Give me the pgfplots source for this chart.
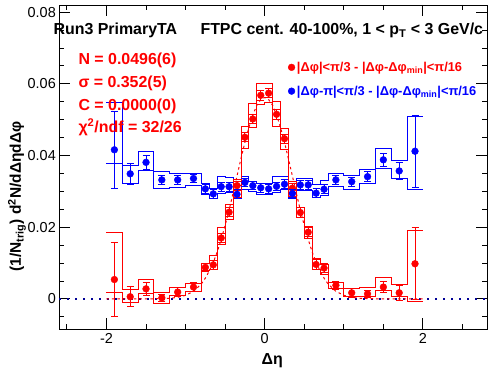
\documentclass[border=0pt]{standalone}
\usepackage{fontspec}
\setmainfont{Liberation Sans}
\usepackage{pgfplots}
\pgfplotsset{compat=1.18}
\usepackage{pgfplotstable}

\definecolor{rootred}{RGB}{255,0,0}
\definecolor{rootblue}{RGB}{0,0,255}
\definecolor{navyline}{RGB}{0,0,150}

% x = bin centre, lo = lower bin edge, y = value, ey = stat. error, up/dn = systematic band
\pgfplotstableread{
x     lo    y       ey      up      dn
-1.9  -2.0  0.0054  0.0103  0.0184  0.0019
-1.7  -1.8  0.0006  0.0028  0.0026  -0.0011
-1.5  -1.6  0.0028  0.0019  0.0054  0.0014
-1.3  -1.4  0.0003  0.0010  0.0019  -0.0014
-1.1  -1.2  0.0019  0.0012  0.0031  0.0009
-0.9  -1.0  0.0033  0.0012  0.0042  0.0020
-0.75 -0.8  0.0088  0.0012  0.0098  0.0080
-0.65 -0.7  0.0095  0.0013  0.0121  0.0081
-0.55 -0.6  0.0170  0.0012  0.0199  0.0151
-0.45 -0.5  0.0242  0.0013  0.0263  0.0223
-0.35 -0.4  0.0316  0.0013  0.0332  0.0282
-0.25 -0.3  0.0451  0.0013  0.0481  0.0421
-0.15 -0.2  0.0502  0.0013  0.0546  0.0478
-0.05 -0.1  0.0568  0.0013  0.0600  0.0543
0.05  0.0   0.0574  0.0013  0.0600  0.0548
0.15  0.1   0.0515  0.0013  0.0551  0.0481
0.25  0.2   0.0447  0.0013  0.0476  0.0418
0.35  0.3   0.0309  0.0013  0.0328  0.0286
0.45  0.4   0.0241  0.0013  0.0256  0.0226
0.55  0.5   0.0186  0.0013  0.0202  0.0170
0.65  0.6   0.0096  0.0013  0.0114  0.0082
0.75  0.7   0.0086  0.0013  0.0096  0.0068
0.9   0.8   0.0038  0.0012  0.0045  0.0030
1.1   1.0   0.0017  0.0012  0.0028  0.0006
1.3   1.2   0.0014  0.0010  0.0031  0.0006
1.5   1.4   0.0033  0.0016  0.0061  0.0023
1.7   1.6   0.0017  0.0021  0.0039  0.0006
1.9   1.8   0.0098  0.0100  0.0192  -0.0008
nan   2.0   nan     0       0.0192  -0.0008
}\redtab

\pgfplotstableread{
x     lo    y       ey      up      dn
-1.9  -2.0  0.0416  0.0107  0.0549  0.0377
-1.7  -1.8  0.0349  0.0029  0.0373  0.0323
-1.5  -1.6  0.0381  0.0020  0.0410  0.0357
-1.3  -1.4  0.0332  0.0013  0.0355  0.0308
-1.1  -1.2  0.0332  0.0012  0.0351  0.0311
-0.9  -1.0  0.0336  0.0012  0.0351  0.0316
-0.75 -0.8  0.0307  0.0012  0.0323  0.0291
-0.65 -0.7  0.0293  0.0012  0.0309  0.0279
-0.55 -0.6  0.0313  0.0012  0.0343  0.0295
-0.45 -0.5  0.0313  0.0012  0.0340  0.0296
-0.35 -0.4  0.0292  0.0012  0.0317  0.0281
-0.25 -0.3  0.0325  0.0012  0.0343  0.0305
-0.15 -0.2  0.0316  0.0012  0.0328  0.0299
-0.05 -0.1  0.0310  0.0012  0.0323  0.0291
0.05  0.0   0.0307  0.0012  0.0323  0.0291
0.15  0.1   0.0314  0.0012  0.0342  0.0298
0.25  0.2   0.0320  0.0012  0.0342  0.0305
0.35  0.3   0.0294  0.0012  0.0323  0.0281
0.45  0.4   0.0318  0.0012  0.0335  0.0302
0.55  0.5   0.0318  0.0012  0.0335  0.0302
0.65  0.6   0.0295  0.0012  0.0318  0.0282
0.75  0.7   0.0306  0.0012  0.0330  0.0290
0.9   0.8   0.0332  0.0012  0.0351  0.0314
1.1   1.0   0.0327  0.0012  0.0345  0.0306
1.3   1.2   0.0341  0.0014  0.0362  0.0322
1.5   1.4   0.0388  0.0019  0.0421  0.0365
1.7   1.6   0.0357  0.0025  0.0385  0.0337
1.9   1.8   0.0412  0.0100  0.0509  0.0305
nan   2.0   nan     0       0.0509  0.0305
}\bluetab

% Gaussian fit curve, tabulated
\pgfplotstableread{
x     y
-2.0  0.0000
-1.6  0.0000
-1.4  0.00002
-1.2  0.00017
-1.1  0.00043
-1.0  0.0010
-0.9  0.0021
-0.8  0.0042
-0.75 0.0058
-0.7  0.0078
-0.65 0.0102
-0.6  0.0131
-0.55 0.0166
-0.5  0.0205
-0.45 0.0248
-0.4  0.0295
-0.35 0.0343
-0.3  0.0391
-0.25 0.0437
-0.2  0.0478
-0.15 0.0513
-0.1  0.0540
-0.05 0.0556
0.0   0.0562
0.05  0.0556
0.1   0.0540
0.15  0.0513
0.2   0.0478
0.25  0.0437
0.3   0.0391
0.35  0.0343
0.4   0.0295
0.45  0.0248
0.5   0.0205
0.55  0.0166
0.6   0.0131
0.65  0.0102
0.7   0.0078
0.75  0.0058
0.8   0.0042
0.9   0.0021
1.0   0.0010
1.1   0.00043
1.2   0.00017
1.4   0.00002
1.6   0.0000
2.0   0.0000
}\fittab

\begin{document}
\begin{tikzpicture}
\begin{axis}[
  at={(0,0)}, anchor=south west,
  scale only axis, width=428bp, height=324bp,
  xmin=-2.6, xmax=2.81, ymin=-0.0084, ymax=0.082,
  axis line style={line width=0.9bp},
  xtick={-2,0,2}, xticklabels={-2,0,2},
  minor xtick={-2.5,-1.5,-1,-0.5,0.5,1,1.5,2.5},
  ytick={0,0.02,0.04,0.06,0.08}, yticklabels={0,0.02,0.04,0.06,0.08},
  minor ytick={-0.005,0.005,0.01,0.015,0.025,0.03,0.035,0.045,0.05,0.055,0.065,0.07,0.075},
  tick align=inside, tick pos=both,
  major tick length=11bp, minor tick length=5.5bp,
  tick style={line width=0.9bp, black},
  /pgf/number format/assume math mode=true,
  ticklabel style={font=\fontsize{14.5}{14.5}\selectfont, inner sep=1bp},
  xticklabel style={yshift=-3bp},
  yticklabel style={xshift=-2bp},
  clip mode=individual,
  legend style={at={(rel axis cs:0.535,0.831)}, anchor=north west, draw=none, fill=none,
    font=\bfseries\fontsize{12.9}{14}\selectfont, row sep=9bp, inner sep=0pt},
  legend cell align=left,
  legend image code/.code={\draw[#1, mark repeat=2, mark phase=2] plot coordinates {(0bp,0bp) (9bp,0bp) (23bp,0bp)};},
]
% zero line
\addplot[navyline, line width=1.3bp, dash pattern=on 2bp off 6bp, forget plot] coordinates {(-2.6,0) (2.81,0)};
% fit
\addplot[rootred, line width=1bp, dash pattern=on 2.5bp off 3bp, forget plot] table[x=x,y=y] {\fittab};
% systematic bands
\addplot[rootblue, line width=0.9bp, const plot mark left, forget plot] table[x=lo,y=up] {\bluetab};
\addplot[rootblue, line width=0.9bp, const plot mark left, forget plot] table[x=lo,y=dn] {\bluetab};
\addplot[rootred, line width=0.9bp, const plot mark left, forget plot] table[x=lo,y=up] {\redtab};
\addplot[rootred, line width=0.9bp, const plot mark left, forget plot] table[x=lo,y=dn] {\redtab};
% data
\addplot[rootred, only marks, mark=*, mark size=3.4bp,
  error bars/.cd, y dir=both, y explicit,
  error bar style={line width=0.9bp, rootred},
  error mark options={mark size=3.5bp, line width=0.9bp, rootred, rotate=90}]
  table[x=x,y=y,y error=ey] {\redtab};
\addlegendentry[text=rootred]{|Δφ|<π/3 - |Δφ-Δφ\textsubscript{min}|<π/16}
\addplot[rootblue, only marks, mark=*, mark size=3.4bp,
  error bars/.cd, y dir=both, y explicit,
  error bar style={line width=0.9bp, rootblue},
  error mark options={mark size=3.5bp, line width=0.9bp, rootblue, rotate=90}]
  table[x=x,y=y,y error=ey] {\bluetab};
\addlegendentry[text=rootblue]{|Δφ-π|<π/3 - |Δφ-Δφ\textsubscript{min}|<π/16}

% texts
\node[anchor=base west, font=\bfseries\fontsize{16}{16}\selectfont] at (rel axis cs:-0.021,0.909) {Run3 PrimaryTA};
\node[anchor=base west, font=\bfseries\fontsize{16}{16}\selectfont] at (rel axis cs:0.3224,0.909) {FTPC cent. 40-100\%, 1 < p\textsubscript{T} < 3 GeV/c};
\node[anchor=base west, text=rootred, font=\bfseries\fontsize{16}{16}\selectfont] at (rel axis cs:0.0374,0.815) {N = 0.0496(6)};
\node[anchor=base west, text=rootred, font=\bfseries\fontsize{16}{16}\selectfont] at (rel axis cs:0.0374,0.745) {σ = 0.352(5)};
\node[anchor=base west, text=rootred, font=\bfseries\fontsize{16}{16}\selectfont] at (rel axis cs:0.0374,0.674) {C = 0.0000(0)};
\node[anchor=base west, text=rootred, font=\bfseries\fontsize{16}{16}\selectfont] at (rel axis cs:0.0374,0.605) {χ\textsuperscript{2}/ndf = 32/26};
\node[rotate=90, font=\bfseries\fontsize{15.5}{15.5}\selectfont] at (rel axis cs:-0.098,0.409) {(1/N\textsubscript{trig}) d\textsuperscript{2}N/dΔηdΔφ};
\node[font=\bfseries\fontsize{16}{16}\selectfont] at (rel axis cs:0.498,-0.099) {Δη};
\end{axis}
\pgfresetboundingbox
\path[use as bounding box] (-59bp,-45bp) rectangle (437bp,329bp);
\end{tikzpicture}
\end{document}
